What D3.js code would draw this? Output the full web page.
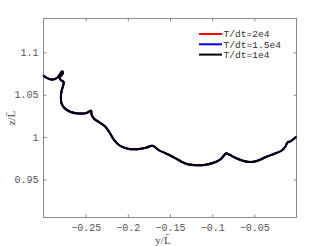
<!DOCTYPE html>
<html>
<head>
<meta charset="utf-8">
<script src="https://cdn.jsdelivr.net/npm/d3@7"></script>
<style>
body { margin: 0; background: #fff; }
svg { display: block; }
</style>
</head>
<body>
<svg class="chart" width="327" height="246"></svg>
<script>
// traced curve, one array per run (they sit on top of each other)
var yRed = [-0.2995,-0.2968,-0.2921,-0.2874,-0.2838,-0.2809,-0.2791,-0.2773,-0.2773,-0.2797,-0.2809,-0.2791,-0.2761,-0.2767,-0.2785,-0.2794,-0.2785,-0.2755,-0.2684,-0.2590,-0.2490,-0.2436,-0.2430,-0.2401,-0.2330,-0.2271,-0.2223,-0.2164,-0.2093,-0.1999,-0.1892,-0.1786,-0.1715,-0.1680,-0.1632,-0.1526,-0.1432,-0.1361,-0.1290,-0.1183,-0.1077,-0.0983,-0.0900,-0.0853,-0.0835,-0.0794,-0.0700,-0.0617,-0.0546,-0.0463,-0.0369,-0.0262,-0.0180,-0.0132,-0.0109,-0.0073,-0.0038,-0.0008];
var zRed = [1.0722,1.0701,1.0683,1.0683,1.0701,1.0736,1.0766,1.0772,1.0748,1.0719,1.0695,1.0671,1.0648,1.0606,1.0547,1.0465,1.0394,1.0346,1.0299,1.0279,1.0284,1.0311,1.0264,1.0216,1.0169,1.0128,1.0063,0.9968,0.9897,0.9862,0.9856,0.9874,0.9897,0.9885,0.9844,0.9797,0.9749,0.9708,0.9678,0.9667,0.9673,0.9696,0.9738,0.9791,0.9809,0.9791,0.9744,0.9714,0.9704,0.9720,0.9761,0.9803,0.9838,0.9885,0.9933,0.9950,0.9974,1.0000];
var yBlue = [-0.3000,-0.2968,-0.2921,-0.2874,-0.2838,-0.2809,-0.2791,-0.2773,-0.2773,-0.2797,-0.2809,-0.2791,-0.2761,-0.2767,-0.2785,-0.2794,-0.2785,-0.2755,-0.2684,-0.2590,-0.2490,-0.2436,-0.2430,-0.2401,-0.2330,-0.2271,-0.2223,-0.2164,-0.2093,-0.1999,-0.1892,-0.1786,-0.1715,-0.1680,-0.1632,-0.1526,-0.1432,-0.1361,-0.1290,-0.1183,-0.1077,-0.0983,-0.0900,-0.0853,-0.0835,-0.0794,-0.0700,-0.0617,-0.0546,-0.0463,-0.0369,-0.0262,-0.0180,-0.0132,-0.0109,-0.0073,-0.0038,-0.0009];
var zBlue = [1.0726,1.0701,1.0683,1.0683,1.0701,1.0736,1.0766,1.0772,1.0748,1.0719,1.0695,1.0671,1.0648,1.0606,1.0547,1.0465,1.0394,1.0346,1.0299,1.0279,1.0284,1.0311,1.0264,1.0216,1.0169,1.0128,1.0063,0.9968,0.9897,0.9862,0.9856,0.9874,0.9897,0.9885,0.9844,0.9797,0.9749,0.9708,0.9678,0.9667,0.9673,0.9696,0.9738,0.9791,0.9809,0.9791,0.9744,0.9714,0.9704,0.9720,0.9761,0.9803,0.9838,0.9885,0.9933,0.9950,0.9974,0.9999];
var yBlack = [-0.2990,-0.2968,-0.2921,-0.2874,-0.2838,-0.2809,-0.2791,-0.2773,-0.2773,-0.2797,-0.2809,-0.2791,-0.2761,-0.2767,-0.2785,-0.2794,-0.2785,-0.2755,-0.2684,-0.2590,-0.2490,-0.2436,-0.2430,-0.2401,-0.2330,-0.2271,-0.2223,-0.2164,-0.2093,-0.1999,-0.1892,-0.1786,-0.1715,-0.1680,-0.1632,-0.1526,-0.1432,-0.1361,-0.1290,-0.1183,-0.1077,-0.0983,-0.0900,-0.0853,-0.0835,-0.0794,-0.0700,-0.0617,-0.0546,-0.0463,-0.0369,-0.0262,-0.0180,-0.0132,-0.0109,-0.0073,-0.0038,-0.0012];
var zBlack = [1.0718,1.0701,1.0683,1.0683,1.0701,1.0736,1.0766,1.0772,1.0748,1.0719,1.0695,1.0671,1.0648,1.0606,1.0547,1.0465,1.0394,1.0346,1.0299,1.0279,1.0284,1.0311,1.0264,1.0216,1.0169,1.0128,1.0063,0.9968,0.9897,0.9862,0.9856,0.9874,0.9897,0.9885,0.9844,0.9797,0.9749,0.9708,0.9678,0.9667,0.9673,0.9696,0.9738,0.9791,0.9809,0.9791,0.9744,0.9714,0.9704,0.9720,0.9761,0.9803,0.9838,0.9885,0.9933,0.9950,0.9974,0.9996];

var seriesNames = ["T/dt=2e4", "T/dt=1.5e4", "T/dt=1e4"];
var seriesColors = ["#ff0000", "#0000ff", "#000000"];
var xTicks = [-0.25, -0.2, -0.15, -0.1, -0.05];
var yTicks = [0.95, 1, 1.05, 1.1];

// plot box (note: "top" is taken by window.top)
var boxL = 43.5, boxR = 296.5, boxT = 18.5, boxB = 217.5;

var x = d3.scaleLinear().domain([-0.3, 0]).range([boxL, boxR]);
var y = d3.scaleLinear().domain([0.905, 1.14]).range([boxB, boxT]);

var svg = d3.select(".chart");
var axisColor = "#8a8a8a";
var textColor = "#555";
var mono = "'Liberation Mono', 'DejaVu Sans Mono', monospace";

function styleAxis(g){
	g.select(".domain").remove();
	g.selectAll(".tick line").attr("stroke", axisColor);
	g.selectAll(".tick text")
		.style("font-family", mono)
		.style("font-size", "10px")
		.style("fill", textColor);
}

svg.append("g")
	.attr("transform", "translate(0," + boxB + ")")
	.call(d3.axisBottom(x).tickValues(xTicks).tickSize(-3).tickPadding(6)
		.tickFormat(function(d){ return String(d).replace("-", "\u2212"); }))
	.call(styleAxis);
svg.append("g")
	.attr("transform", "translate(0," + boxT + ")")
	.call(d3.axisTop(x).tickValues(xTicks).tickSize(-3).tickFormat(""))
	.call(styleAxis);
svg.append("g")
	.attr("transform", "translate(" + boxL + ",0)")
	.call(d3.axisLeft(y).tickValues(yTicks).tickSize(-3).tickPadding(5)
		.tickFormat(function(d){ return String(d); }))
	.call(styleAxis);
svg.append("g")
	.attr("transform", "translate(" + boxR + ",0)")
	.call(d3.axisRight(y).tickValues(yTicks).tickSize(-3).tickFormat(""))
	.call(styleAxis);

svg.append("rect")
	.attr("x", boxL).attr("y", boxT)
	.attr("width", boxR - boxL).attr("height", boxB - boxT)
	.attr("fill", "none")
	.attr("stroke", axisColor)
	.attr("stroke-width", 1);

var runs = [
	{ys: yRed, zs: zRed},
	{ys: yBlue, zs: zBlue},
	{ys: yBlack, zs: zBlack}
];

var line = d3.line()
	.x(function(d){ return x(d[0]); })
	.y(function(d){ return y(d[1]); })
	.curve(d3.curveCatmullRom.alpha(0.5));

svg.append("g")
	.selectAll("path")
	.data(runs)
	.enter()
	.append("path")
	.attr("d", function(r){ return line(d3.zip(r.ys, r.zs)); })
	.attr("fill", "none")
	.attr("stroke", function(d, i){ return seriesColors[i]; })
	.attr("stroke-width", 2)
	.attr("stroke-linejoin", "round")
	.attr("stroke-linecap", "round");

// legend
var legend = svg.append("g");
legend.selectAll("line")
	.data(seriesNames)
	.enter()
	.append("line")
	.attr("x1", 199).attr("x2", 222)
	.attr("y1", function(d, i){ return 34 + i * 10.3; })
	.attr("y2", function(d, i){ return 34 + i * 10.3; })
	.attr("stroke", function(d, i){ return seriesColors[i]; })
	.attr("stroke-width", 2);
legend.selectAll("text")
	.data(seriesNames)
	.enter()
	.append("text")
	.text(function(d){ return d; })
	.attr("x", 223.5)
	.attr("y", function(d, i){ return 34 + i * 10.3; })
	.attr("dy", "0.35em")
	.style("font-family", mono)
	.style("font-size", "9.6px")
	.style("fill", "#333");

// axis labels
svg.append("text")
	.text("y/L\u0304")
	.attr("x", 163).attr("y", 243.5)
	.attr("text-anchor", "middle")
	.style("font-family", "'Liberation Serif', serif")
	.style("font-size", "11px")
	.style("fill", "#444");
svg.append("text")
	.text("z/L\u0304")
	.attr("transform", "translate(15,118) rotate(-90)")
	.attr("text-anchor", "middle")
	.style("font-family", "'Liberation Serif', serif")
	.style("font-size", "11px")
	.style("fill", "#444");
</script>
</body>
</html>
